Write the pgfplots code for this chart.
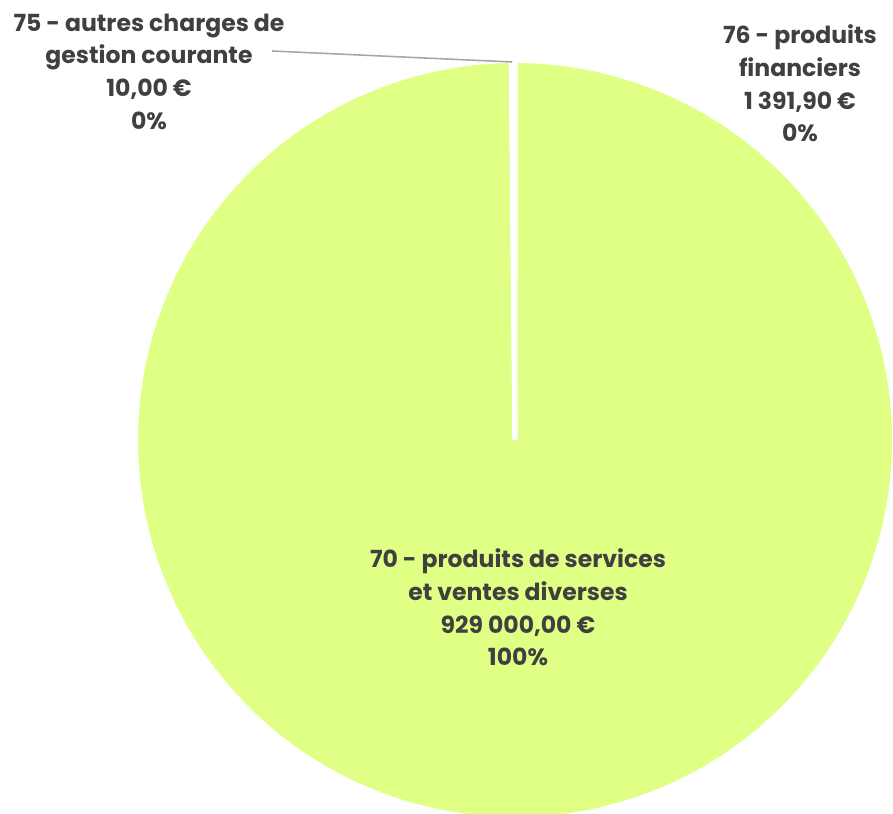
\documentclass[border=0pt]{standalone}
\usepackage{pgfplots}
\pgfplotsset{compat=1.18}
\usepackage{fontspec}
\setmainfont{Poppins}
\definecolor{pie}{RGB}{223,255,133}
\definecolor{txt}{RGB}{64,64,64}
\definecolor{lead}{RGB}{166,166,166}
% data (EUR)
\def\vA{929000}   % 70 - produits de services et ventes diverses
\def\vB{10}       % 75 - autres charges de gestion courante
\def\vC{1391.90}  % 76 - produits financiers
\edef\tot{\fpeval{\vA+\vB+\vC}}
\edef\aS{90}
\edef\aA{\fpeval{90-360*\vA/\tot}}
\edef\aB{\fpeval{\aA-360*\vB/\tot}}
\edef\aC{\fpeval{\aB-360*\vC/\tot}}
\begin{document}
\begin{tikzpicture}
\begin{axis}[
  width=12cm, height=10.925cm, scale only axis,
  xmin=0, xmax=893, ymin=0, ymax=813,
  hide axis, clip=false,
]
\def\cx{515}\def\cy{373}\def\r{379.5}
\addplot[fill=pie, draw=white, line width=1.9pt, domain=\aA:\aS, samples=361, smooth]
  ({\cx+\r*cos(x)},{\cy+\r*sin(x)}) -- (axis cs:\cx,\cy) -- cycle;
\addplot[fill=pie, draw=white, line width=1.9pt, domain=\aB:\aA, samples=2]
  ({\cx+\r*cos(x)},{\cy+\r*sin(x)}) -- (axis cs:\cx,\cy) -- cycle;
\addplot[fill=pie, draw=white, line width=1.9pt, domain=\aC:\aB, samples=3]
  ({\cx+\r*cos(x)},{\cy+\r*sin(x)}) -- (axis cs:\cx,\cy) -- cycle;
\addplot[lead, line width=0.6pt] coordinates {(272,762) (512,751)};
\begin{scope}[every node/.style={font=\bfseries\fontsize{9}{12.5}\selectfont, text=txt, align=center, inner sep=0pt}]
\node at (axis cs:149,741.5) {75 - autres charges de\\gestion courante\\10,00 €\\0\%};
\node at (axis cs:800,729.5) {76 - produits\\financiers\\1 391,90 €\\0\%};
\node at (axis cs:518,205.5) {70 - produits de services\\et ventes diverses\\929 000,00 €\\100\%};
\end{scope}
\end{axis}
\pgfresetboundingbox
\path[use as bounding box] (current axis.south west) rectangle (current axis.north east);
\end{tikzpicture}
\end{document}
